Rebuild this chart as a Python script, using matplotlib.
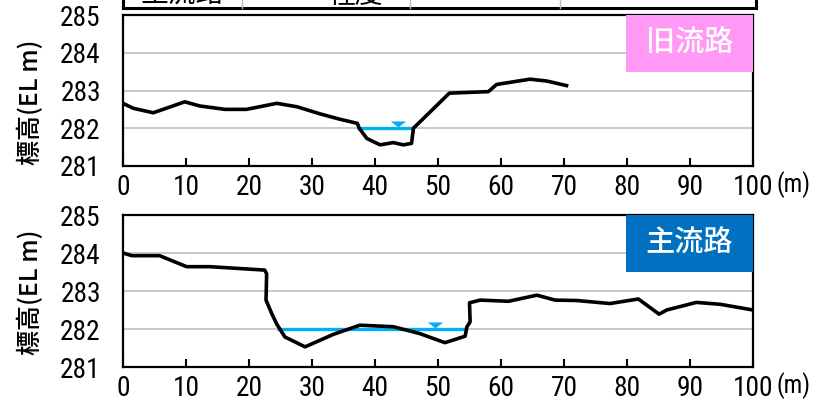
import matplotlib
matplotlib.use("Agg")
import matplotlib.pyplot as plt
from matplotlib import font_manager
from matplotlib.font_manager import FontProperties
from matplotlib.textpath import TextPath
from matplotlib.patches import Rectangle
from matplotlib.lines import Line2D
import os

# ---------------- data ----------------
old_x = [0, 1.6, 4.8, 9.8, 12.2, 16.2, 19.6, 24.4, 27.6, 31.3, 34.4, 37.2, 37.5,
         38.7, 40.8, 42.9, 44.5, 45.8, 46.1, 51.8, 58.0, 59.3, 64.6, 67.3, 70.4]
old_y = [282.66, 282.53, 282.41, 282.70, 282.59, 282.50, 282.50, 282.66, 282.57,
         282.38, 282.24, 282.13, 282.00, 281.73, 281.56, 281.62, 281.56, 281.60,
         282.00, 282.93, 282.97, 283.16, 283.30, 283.25, 283.13]
old_water_x = [37.2, 46.0]
old_water_level = 282.0
old_marker_x = 43.7

main_x = [0, 1.4, 5.8, 10.1, 13.8, 22.5, 22.8, 22.7, 23.6, 24.4, 25.7, 28.9, 33.4,
          37.6, 42.9, 47.1, 51.1, 54.3, 54.6, 55.1, 55.0, 56.7, 61.2, 65.7, 68.6,
          72.0, 77.3, 81.8, 85.1, 86.3, 91.0, 94.8, 100]
main_y = [284.0, 283.93, 283.93, 283.64, 283.64, 283.55, 283.45, 282.76, 282.41,
          282.13, 281.79, 281.53, 281.86, 282.10, 282.06, 281.88, 281.64, 281.81,
          282.06, 282.19, 282.69, 282.76, 282.73, 282.89, 282.76, 282.75, 282.67,
          282.79, 282.39, 282.50, 282.70, 282.65, 282.50]
main_water_x = [24.4, 54.3]
main_water_level = 282.0
main_marker_x = 49.5

x_ticks = [0, 10, 20, 30, 40, 50, 60, 70, 80, 90, 100]
y_ticks = [281, 282, 283, 284, 285]
panel_titles = ["旧流路", "主流路"]
y_label = "標高(EL m)"
x_unit = "(m)"
legend_texts = ["主流路", "程度"]

# ---------------- fonts ----------------
cjk = ["Noto Sans CJK JP", "DejaVu Sans"]


def measure(prop, s="285"):
    try:
        ext = TextPath((0, 0), s, size=100, prop=prop).get_extents()
        return ext.width, ext.height
    except Exception:
        return None


bad = ["bold", "italic", "oblique", "light", "thin", "black", "medium", "semibold",
       "heavy", "mono"]
cands = []
for f in font_manager.fontManager.ttflist:
    fn = os.path.basename(f.fname).lower()
    if ("narrow" in fn or "condensed" in fn) and not any(b in fn for b in bad):
        cands.append(f.fname)
cands = sorted(set(cands))
options = [FontProperties(fname=c) for c in cands] + [FontProperties(family="DejaVu Sans")]
target_ratio = 38.0 / 20.0
best, best_err, best_m = None, 1e9, None
for fp in options:
    m = measure(fp)
    if not m or m[1] <= 0:
        continue
    err = abs(m[0] / m[1] - target_ratio)
    if err < best_err:
        best, best_err, best_m = fp, err, m
w100, h100 = best_m
size_px = min(100 * 20.0 / h100, 100 * 40.0 / w100)
num_pt = size_px * 0.72


def numfp(scale=1.0):
    fp = best.copy()
    fp.set_size(num_pt * scale)
    return fp


W, H = 832, 405
fig = plt.figure(figsize=(W / 100, H / 100), dpi=100)


def fx(px):
    return px / W


def fy(py):
    return 1 - py / H


L, R = 123, 753
panels = [
    dict(top=15, bot=166, x=old_x, y=old_y, wx=old_water_x, wl=old_water_level,
         mx=old_marker_x, title=panel_titles[0], color="#FF99F5", lab_cy=102),
    dict(top=215, bot=367, x=main_x, y=main_y, wx=main_water_x, wl=main_water_level,
         mx=main_marker_x, title=panel_titles[1], color="#0070C0", lab_cy=292),
]

tri = [(-1, 0.4), (1, 0.4), (0, -0.4), (-1, 0.4)]

for p in panels:
    ax = fig.add_axes([fx(L), fy(p["bot"]), fx(R - L), (p["bot"] - p["top"]) / H])
    ax.set_xlim(0, 100)
    ax.set_ylim(281, 285)
    ax.set_xticks(x_ticks)
    ax.set_yticks(y_ticks)
    ax.set_xticklabels([str(t) for t in x_ticks], fontproperties=numfp())
    ax.set_yticklabels([str(t) for t in y_ticks], fontproperties=numfp())
    ax.tick_params(axis="x", direction="in", length=6, width=1.5, pad=6)
    ax.tick_params(axis="y", direction="in", length=0, pad=16)
    ax.yaxis.grid(True, color="#C0C0C0", lw=1.2)
    ax.set_axisbelow(True)
    for s in ax.spines.values():
        s.set_linewidth(1.6)
        s.set_color("black")
    ax.plot(p["wx"], [p["wl"], p["wl"]], color="#00B0F0", lw=2.4, zorder=3,
            solid_capstyle="butt")
    ax.plot(p["x"], p["y"], color="black", lw=2.6, zorder=4,
            solid_joinstyle="round")
    ax.plot([p["mx"]], [p["wl"] + 0.11], marker=tri, markersize=11, color="#00B0F0",
            markeredgewidth=0, linestyle="none", zorder=5)
    # label box
    bx0 = (626 - L) / (R - L)
    by0 = (p["bot"] - (p["top"] + 57)) / (p["bot"] - p["top"])
    ax.add_patch(Rectangle((bx0, by0), 1 - bx0, 1 - by0, transform=ax.transAxes,
                           facecolor=p["color"], edgecolor="none", zorder=6,
                           clip_on=False))
    ax.text((bx0 + 1) / 2, (by0 + 1) / 2, p["title"], transform=ax.transAxes,
            ha="center", va="center", color="white", fontsize=21, family=cjk,
            fontweight="medium", zorder=7)
    ax.set_ylabel(y_label, family=cjk, fontsize=18, fontweight="medium")
    ax.yaxis.label.set_verticalalignment("center")
    ax.yaxis.set_label_coords((31 - L) / (R - L),
                              (p["bot"] - p["lab_cy"]) / (p["bot"] - p["top"]))
    fig.text(fx(777), fy(p["bot"] + 19), x_unit, fontproperties=numfp(0.9),
             ha="left", va="center")

# ---------------- clipped legend strip at the very top ----------------
by = fy(8)
fig.add_artist(Line2D([fx(123), fx(756)], [by, by], color="black", lw=2.2))
fig.add_artist(Line2D([fx(123), fx(123)], [by, 1.02], color="black", lw=2.2))
fig.add_artist(Line2D([fx(756), fx(756)], [by, 1.02], color="black", lw=2.2))
for sx in [242, 410, 560]:
    fig.add_artist(Line2D([fx(sx), fx(sx)], [by, 1.02], color="#BBBBBB", lw=1))
fig.text(fx(182), fy(3), legend_texts[0], family=cjk, fontsize=20,
         ha="center", va="baseline")
fig.text(fx(355), fy(3), legend_texts[1], family=cjk, fontsize=20,
         ha="center", va="baseline")

fig.savefig("out.png", dpi=100)
